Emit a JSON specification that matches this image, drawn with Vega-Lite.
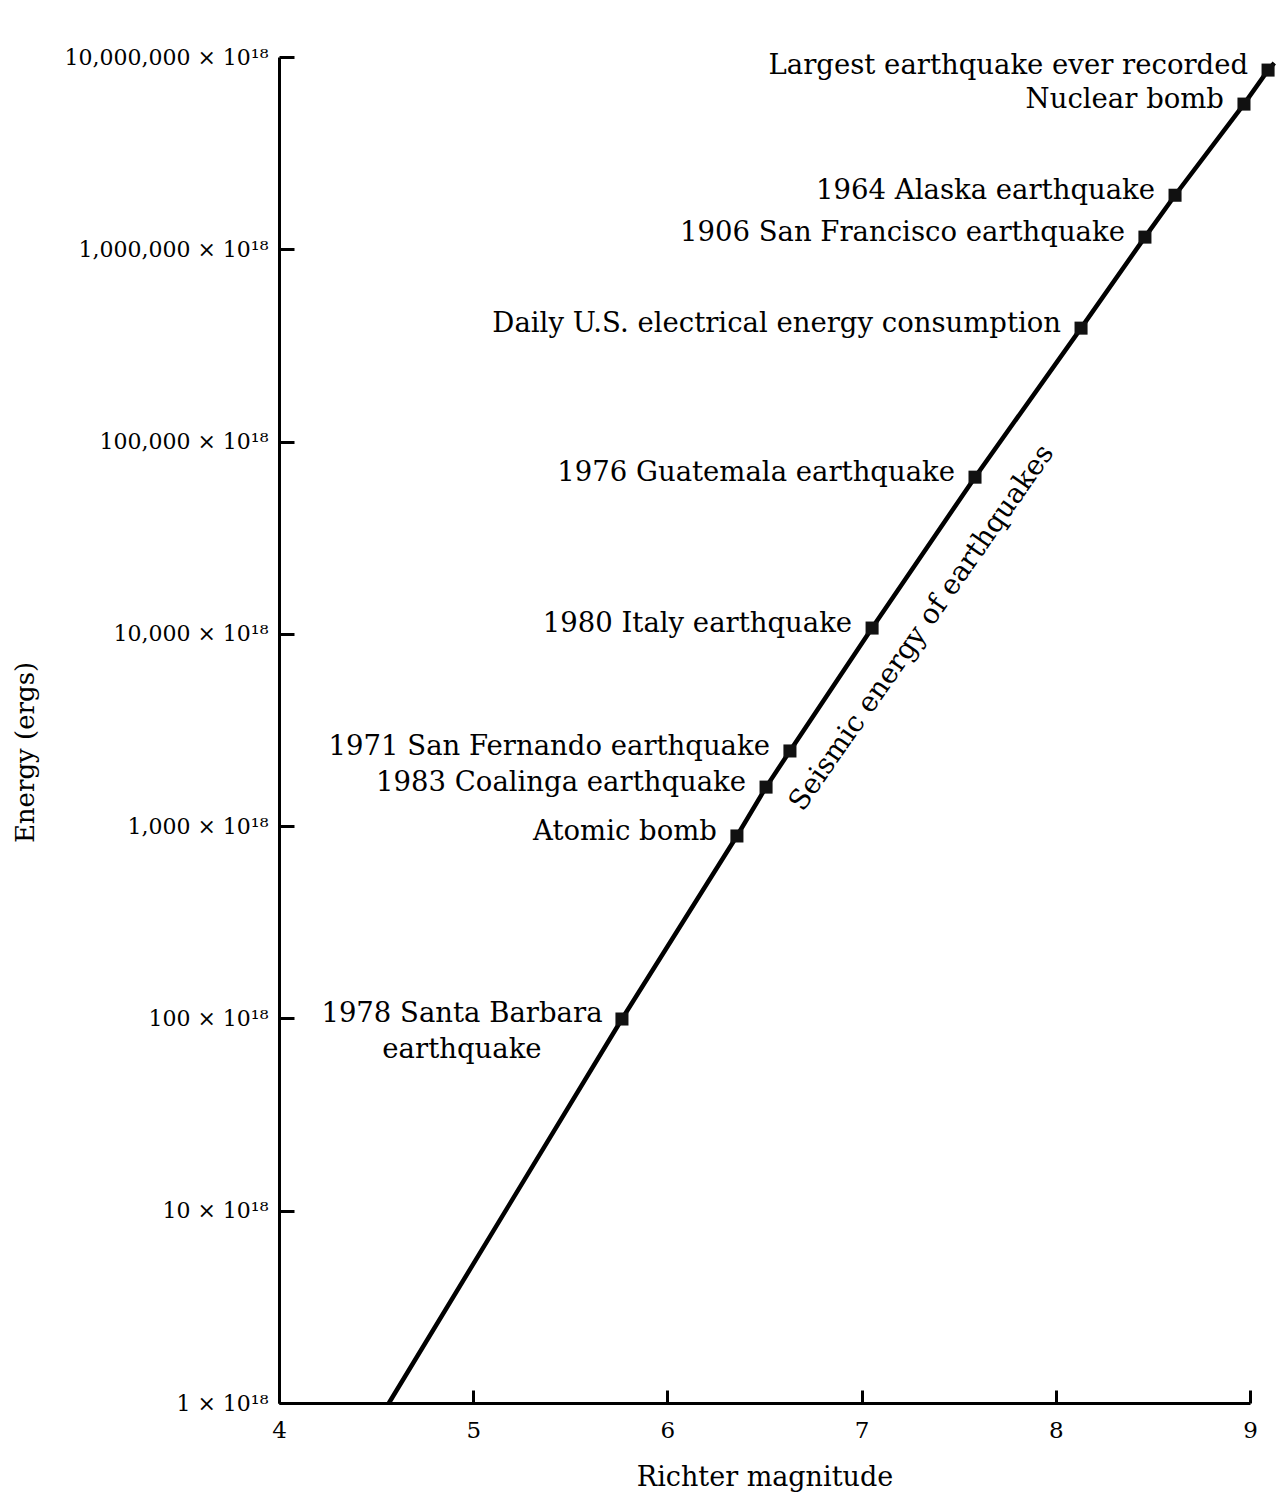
{
  "$schema": "https://vega.github.io/schema/vega-lite/v6.json",
  "width": 971,
  "height": 1346,
  "autosize": {"type": "none"},
  "padding": {"left": 279, "top": 57, "right": 38, "bottom": 97},
  "background": "white",
  "config": {
    "view": {"stroke": null},
    "axis": {
      "grid": false,
      "domainColor": "black",
      "domainWidth": 3,
      "tickColor": "black",
      "tickWidth": 3,
      "labelColor": "black",
      "titleColor": "black",
      "labelFont": "DejaVu Serif",
      "titleFont": "DejaVu Serif",
      "titleFontWeight": "normal",
      "labelLimit": 400,
      "labelFlush": false,
      "labelOverlap": false
    }
  },
  "datasets": {
    "events": [
      {"label": "Largest earthquake ever recorded", "magnitude": 9.093, "energy": 8550000},
      {"label": "Nuclear bomb", "magnitude": 8.969, "energy": 5690000},
      {"label": "1964 Alaska earthquake", "magnitude": 8.614, "energy": 1910000},
      {"label": "1906 San Francisco earthquake", "magnitude": 8.459, "energy": 1157000},
      {"label": "Daily U.S. electrical energy consumption", "magnitude": 8.13, "energy": 389000},
      {"label": "1976 Guatemala earthquake", "magnitude": 7.584, "energy": 65300},
      {"label": "1980 Italy earthquake", "magnitude": 7.054, "energy": 10720},
      {"label": "1971 San Fernando earthquake", "magnitude": 6.631, "energy": 2460},
      {"label": "1983 Coalinga earthquake", "magnitude": 6.508, "energy": 1596},
      {"label": "Atomic bomb", "magnitude": 6.358, "energy": 889},
      {"label": "1978 Santa Barbara\nearthquake", "magnitude": 5.766, "energy": 99.3}
    ],
    "curve": [
      {"magnitude": 4.566, "energy": 1},
      {"magnitude": 5.766, "energy": 99.3},
      {"magnitude": 6.358, "energy": 889},
      {"magnitude": 6.508, "energy": 1596},
      {"magnitude": 6.631, "energy": 2460},
      {"magnitude": 7.054, "energy": 10720},
      {"magnitude": 7.584, "energy": 65300},
      {"magnitude": 8.13, "energy": 389000},
      {"magnitude": 8.459, "energy": 1157000},
      {"magnitude": 8.614, "energy": 1910000},
      {"magnitude": 8.969, "energy": 5690000},
      {"magnitude": 9.093, "energy": 8550000},
      {"magnitude": 9.125, "energy": 9300000}
    ],
    "annot": [
      {"label": "Seismic energy of earthquakes", "magnitude": 7.311, "energy": 10720}
    ]
  },
  "encoding": {
    "x": {
      "field": "magnitude",
      "type": "quantitative",
      "scale": {"domain": [4, 9], "nice": false, "zero": false},
      "axis": {
        "title": "Richter magnitude",
        "values": [4, 5, 6, 7, 8, 9],
        "format": "d",
        "tickSize": -13,
        "labelPadding": 29,
        "labelFontSize": 23,
        "titleFontSize": 27,
        "titleBaseline": "alphabetic",
        "titleY": 82
      }
    },
    "y": {
      "field": "energy",
      "type": "quantitative",
      "scale": {"type": "log", "domain": [1, 10000000], "nice": false},
      "axis": {
        "title": "Energy (ergs)",
        "values": [1, 10, 100, 1000, 10000, 100000, 1000000, 10000000],
        "labelExpr": "format(datum.value, ',') + ' × 10¹⁸'",
        "tickSize": -15,
        "labelPadding": 26,
        "labelFontSize": 22,
        "titleFontSize": 26,
        "titleX": -254,
        "titleY": 695,
        "titleBaseline": "middle"
      }
    }
  },
  "layer": [
    {
      "data": {"name": "curve"},
      "mark": {"type": "line", "color": "black", "strokeWidth": 4.5, "interpolate": "linear"}
    },
    {
      "data": {"name": "events"},
      "mark": {"type": "point", "shape": "square", "filled": true, "size": 170, "color": "#111111", "opacity": 1}
    },
    {
      "data": {"name": "events"},
      "transform": [{"filter": "indexof(datum.label, 'Santa Barbara') < 0"}],
      "mark": {"type": "text", "align": "right", "baseline": "middle", "dx": -20, "dy": -4, "font": "DejaVu Serif", "fontSize": 27.5, "color": "black"},
      "encoding": {"text": {"field": "label"}}
    },
    {
      "data": {"name": "events"},
      "transform": [{"filter": "indexof(datum.label, 'Santa Barbara') >= 0"}],
      "mark": {"type": "text", "align": "center", "baseline": "middle", "lineBreak": "\n", "lineHeight": 36, "dx": -160, "dy": -5, "font": "DejaVu Serif", "fontSize": 27.5, "color": "black"},
      "encoding": {"text": {"field": "label"}}
    },
    {
      "data": {"name": "annot"},
      "mark": {"type": "text", "align": "center", "baseline": "middle", "angle": -55, "font": "DejaVu Serif", "fontSize": 28, "color": "black"},
      "encoding": {"text": {"field": "label"}}
    }
  ]
}
